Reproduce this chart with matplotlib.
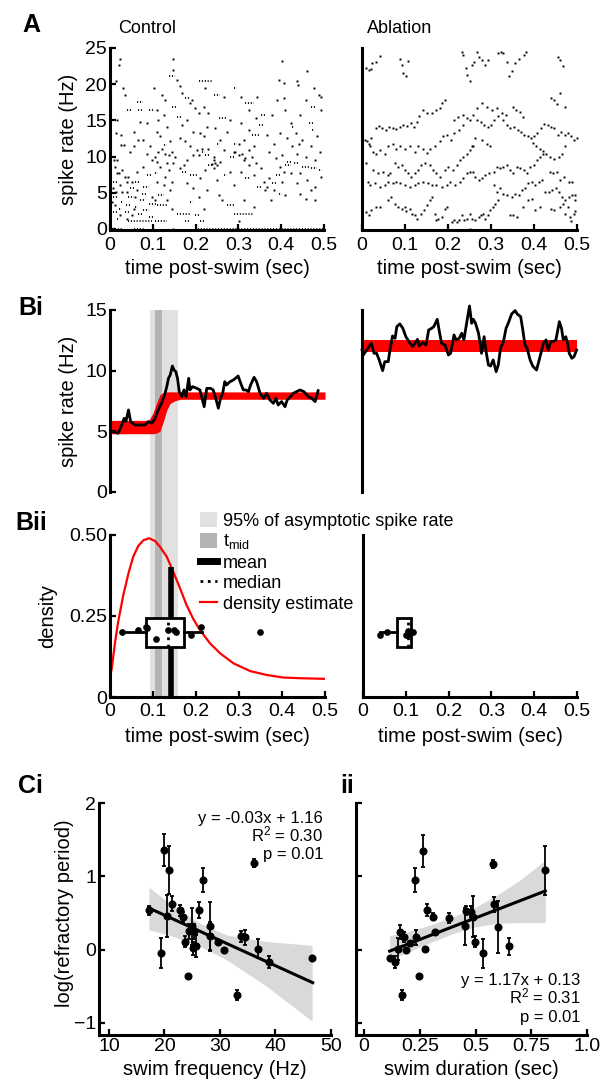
import matplotlib
matplotlib.use('Agg')
import matplotlib.pyplot as plt
from matplotlib.patches import Patch
from matplotlib.lines import Line2D
import numpy as np

plt.rcParams['font.family'] = ['Liberation Sans', 'DejaVu Sans']
plt.rcParams['mathtext.fontset'] = 'custom'
plt.rcParams['mathtext.rm'] = 'Liberation Sans'
plt.rcParams['mathtext.it'] = 'Liberation Sans:italic'
plt.rcParams['axes.linewidth'] = 2.2

# ---------------- data ----------------
time_ticks = [0, 0.1, 0.2, 0.3, 0.4, 0.5]
time_ticklabels = ['0', '0.1', '0.2', '0.3', '0.4', '0.5']

# A: single-trial spike rates (time in ms, rate in Hz)
ctrl_dots = [(20,22.7),(23,23.5),(13,20.4),(30,19.5),(35,18.5),(17,15.1),(14,13.2),(26,13.0),(26,11.6),(33,11.6),
             (47,10.7),(9,9.5),(17,9.5),(12,8.6),(27,8.1),(16,7.7),(22,7.7),(35,7.2),(43,7.2),(39,6.5),(51,6.5),
             (23,6.05),(6,5.6),(14,5.1),(27,5.1),(39,5.1),(4,3.7),(12,3.3),(55,2.8),(23,1.9),(51,1.9),(39,1.4),
             (70,14.8),(55,13.4),(86,14.6),(66,12.3),(78,12.3),(55,11.4),(94,11.4),(86,10.4),(98,9.5),(78,8.6),
             (64,7.9),(63,5.4),(59,4.4),(98,4.4),(105,4.0),
             (103,19.5),(121,18.5),(129,17.8),(147,23.5),(148,22.0),(156,20.6),(109,16.4),(125,15.8),(113,15.1),
             (133,14.1),(109,13.4),(117,12.8),(141,12.1),(105,10.0),(113,10.7),(121,11.1),(129,10.4),(137,10.2),
             (145,10.7),(152,10.0),(109,9.3),(133,9.1),(148,9.1),(117,8.6),(137,8.1),(129,7.2),(109,6.5),(145,6.5),
             (125,6.05),(141,5.4),(133,4.0),(145,2.7),(148,0.0),
             (164,19.7),(168,18.8),(188,17.4),(191,17.8),(199,16.7),(207,16.0),(180,15.1),(168,14.4),(195,13.4),
             (211,13.2),(164,12.5),(176,12.1),(188,11.4),(203,10.9),(195,10.2),(207,10.2),(180,9.5),(172,8.8),
             (164,8.4),(211,7.0),(180,6.3),(195,5.6),(207,4.4),
             (223,19.5),(266,18.3),(219,16.9),(230,16.0),(281,15.1),(227,14.1),(246,13.9),(273,13.4),(219,12.8),
             (258,12.3),(215,11.1),(230,11.1),(266,10.9),(289,10.7),(242,9.5),(258,9.3),(250,8.8),(242,8.4),
             (223,8.1),(281,7.9),(250,6.7),(289,6.05),(227,5.4),(254,4.7),(262,4.0),(219,2.8),(242,9.9),(238,9.0),
             (246,9.1),
             (305,18.3),(344,18.3),(324,16.4),(340,15.3),(305,14.6),(324,13.7),(367,13.0),(313,12.3),(301,11.8),
             (336,11.4),(293,10.7),(301,10.2),(309,10.4),(316,9.75),(324,10.9),(332,10.0),(313,9.5),(324,8.8),
             (340,9.1),(352,8.4),(305,7.9),(336,7.4),(359,6.5),(363,5.4),(313,4.0),(336,3.0),(301,1.1),
             (401,23.2),(395,20.6),(406,20.1),(439,19.9),(406,18.1),(391,17.8),(410,16.4),(379,15.8),(422,14.6),
             (398,13.2),(414,12.5),(383,11.8),(426,11.4),(371,10.7),(402,10.2),(387,9.75),(398,8.6),(406,7.9),
             (422,7.7),(371,7.0),(402,6.5),(367,5.8),(383,5.4),(410,4.7),(375,4.0),
             (461,21.8),(477,19.5),(488,18.5),(492,18.3),(438,20.4),(457,17.8),(492,16.4),(445,15.8),(434,13.2),
             (484,12.8),(449,12.3),(441,11.8),(469,11.4),(491,10.7),(438,10.4),(457,10.0),(480,9.5),(445,7.7),
             (492,7.2),(461,6.7),(438,6.3),(480,5.8),(469,5.4),(445,4.9),(457,4.1),(480,4.0)]

# runs of consecutive bins at one rate: (start ms, end ms, rate)
ctrl_runs = [(4,31,0),(55,82,0),(199,500,0),
             (43,98,1.1),(105,133,1.1),(176,188,1.1),(211,223,1.1),
             (156,188,2.1),(199,211,1.9),(289,336,2.1),
             (8,17,6.5),(47,55,5.6),(8,17,4.4),(43,55,4.4),(26,33,3.7),(38,48,3.3),(20,27,2.8),(8,17,2.4),
             (35,47,2.4),(16,22,1.4),
             (39,48,16.4),(63,77,17.6),(66,74,16.4),(90,102,16.4),(86,98,7.4),(59,70,6.5),(78,90,5.8),(74,86,4.9),
             (70,82,4.0),(90,109,3.5),(59,66,3.0),(78,90,2.6),(66,74,2.1),(90,102,1.7),
             (109,133,3.3),(139,152,21.2),(145,156,16.9),(125,133,11.6),(105,113,7.7),(113,125,4.7),
             (156,168,15.5),(176,184,18.1),(168,180,7.9),(188,203,7.4),(188,195,3.7),
             (207,238,20.5),(242,258,18.5),(215,223,10.7),(223,234,10.2),(230,238,8.8),(254,270,15.3),
             (250,258,11.8),(289,297,11.8),(266,273,7.4),(273,289,3.3),(281,293,10.0),
             (316,336,17.4),(352,363,15.8),(348,359,14.4),(332,348,13.0),(316,324,7.0),(344,352,5.8),
             (387,398,7.4),(395,402,4.9),(414,426,9.3),(410,422,8.8),(379,391,6.3),
             (430,441,9.1),(449,465,8.6),(469,484,8.4),(488,496,8.1),(465,477,14.6),(473,480,13.7),
             (469,480,16.9),(426,430,14.1),(289,297,19.5)]

abl_dots = [(10,22.2),(16,22.0),(22,22.1),(24,22.9),(32,23.1),(41,23.9),(88,23.5),(92,22.7),(96,21.5),(102,21.1),
            (108,23.2),(232,24.5),(236,24.1),(242,22.2),(245,21.3),(250,20.4),(255,22.7),(261,23.1),(267,24.4),
            (271,23.8),(279,23.4),(286,22.7),(292,23.4),(317,24.3),(323,24.5),(329,24.3),(337,23.1),(343,21.1),
            (349,21.8),(356,22.9),(364,23.5),(376,24.1),(382,24.4),(456,23.8),(461,23.4),(467,22.5),
            (460,18.8),(440,18.1),(447,17.8),(454,17.3),(473,16.9),(193,17.8),(187,17.4),(181,16.7),(172,16.4),
            (162,16.0),(150,16.0),(141,16.4),(133,15.6),(279,17.4),(267,16.7),(290,16.9),(302,16.4),(314,16.7),
            (325,16.0),(335,15.8),(352,16.9),(359,16.4),(368,16.1),(374,15.5),(236,15.8),(224,15.4),(214,15.0),
            (6,12.3),(12,12.1),(16,11.8),(22,12.5),(33,13.9),(40,14.2),(47,14.0),(55,13.7),(63,14.1),(72,13.9),
            (80,13.8),(88,14.1),(96,14.4),(105,14.2),(113,14.6),(121,14.1),(127,14.8),
            (18,11.4),(26,10.7),(33,10.4),(43,10.9),(53,10.4),(61,11.4),(72,11.8),(80,11.1),(89,11.4),(100,11.1),
            (111,11.4),(123,10.7),(131,11.4),(141,11.0),(150,10.5),(159,11.1),(170,11.4),(181,12.1),(189,12.8),
            (198,13.0),(206,12.3),(214,13.2),(226,13.7),(236,14.4),(244,15.3),(251,15.0),(259,15.8),(268,15.1),
            (276,14.8),(284,14.4),(292,14.1),(300,14.4),(307,15.1),(317,15.6),(328,15.1),(337,14.4),(345,13.9),
            (354,14.1),(362,13.7),(370,13.4),(377,13.0),(385,12.8),(393,12.5),(401,12.8),(408,13.2),(416,13.9),
            (424,14.5),(432,14.4),(440,14.1),(447,13.9),(455,13.0),(463,13.4),(471,13.0),(478,13.2),(486,12.8),
            (494,12.3),(500,12.5),(473,11.4),(465,10.4),(457,10.0),(447,9.6),(438,10.0),(429,10.3),(421,10.8),
            (413,11.1),(405,11.5),(398,11.9),(290,11.8),(279,12.3),(298,11.4),(263,12.5),(255,11.4),
            (10,9.1),(26,8.1),(37,7.7),(49,7.9),(61,7.4),(66,7.7),(76,9.1),(84,8.6),(92,8.8),(100,8.1),(107,7.7),
            (115,7.2),(123,7.7),(131,8.1),(138,8.8),(146,9.1),(158,8.8),(166,8.1),(173,7.7),(181,7.2),(193,8.1),
            (201,8.6),(212,8.1),(220,8.8),(228,9.5),(236,10.0),(244,10.4),(251,10.9),(259,11.4),
            (14,6.5),(18,6.1),(30,6.3),(41,5.8),(53,6.1),(61,6.5),(71,6.3),(80,6.5),(88,6.3),(100,6.1),(111,5.8),
            (123,6.1),(131,6.3),(142,6.5),(154,6.3),(162,6.1),(173,6.1),(185,5.8),(197,6.1),(205,6.5),(216,6.1),
            (228,6.5),(236,7.0),(244,7.7),(251,7.9),(258,7.9),(263,7.2),(271,6.7),(279,7.0),(286,7.4),(296,7.7),
            (306,7.9),(314,8.6),(321,8.4),(329,8.6),(337,8.8),(345,8.1),(352,7.7),(360,8.6),(368,8.4),(376,8.1),
            (384,7.7),(391,8.6),(399,8.8),(407,9.5),(415,10.0),(422,10.4),(438,7.9),(444,7.8),(454,7.9),(461,6.7),
            (469,7.2),(481,6.5),(489,6.5),(306,6.1),(314,5.1),(321,5.6),(329,4.9),(337,4.7),(349,4.4),(356,4.9),
            (364,4.7),(372,5.4),(380,5.6),(387,6.3),(395,6.5),(403,6.1),(411,6.5),(419,6.7),(426,5.1),(434,5.1),
            (442,5.4),(450,5.6),(457,5.1),(465,4.4),(473,4.0),(481,4.4),(489,4.7),(496,4.7),(496,4.0),
            (10,2.4),(16,1.9),(22,2.6),(33,3.1),(41,3.1),(61,4.0),(68,4.4),(76,3.5),(84,3.1),(92,2.8),(100,3.1),
            (103,2.5),(111,2.8),(117,2.1),(123,1.9),(128,1.4),(138,2.1),(144,2.6),(150,3.3),(158,4.0),(162,4.4),
            (170,2.1),(173,1.2),(177,1.4),(185,1.7),(193,2.8),(198,3.1),(209,1.0),(214,1.2),(220,1.0),(226,1.2),
            (232,1.9),(237,1.2),(244,1.4),(250,2.1),(255,1.4),(251,0.05),(263,1.2),(271,1.7),(276,1.9),(282,2.1),
            (286,1.4),(292,1.9),(298,2.6),(304,3.0),(310,3.4),(317,4.0),(345,1.9),(352,1.9),(360,1.7),(374,3.1),
            (385,4.0),(395,4.1),(403,2.6),(415,3.1),(440,2.8),(447,2.6),(461,3.1),(468,3.5),(473,2.1),(478,3.0),
            (483,1.7),(485,1.1),(492,2.1),(496,2.5)]

# Bi: mean spike rate traces (sec, Hz)
bi_ctrl = [(0.008,4.97),(0.019,4.84),(0.027,5.52),(0.033,6.07),(0.037,5.8),(0.043,6.76),(0.048,5.8),(0.058,5.52),
           (0.070,5.52),(0.081,5.52),(0.089,5.8),(0.097,5.66),(0.105,6.07),(0.112,6.76),(0.120,7.31),(0.128,8.13),
           (0.132,8.68),(0.136,9.37),(0.140,9.64),(0.145,10.38),(0.149,10.05),(0.153,9.92),(0.157,9.37),(0.161,8.27),
           (0.167,7.86),(0.172,8.41),(0.177,7.86),(0.183,9.37),(0.186,8.41),(0.192,8.68),(0.202,8.54),(0.209,8.41),
           (0.213,7.86),(0.219,7.03),(0.225,8.54),(0.234,8.54),(0.240,8.41),(0.247,7.58),(0.252,6.90),(0.257,7.72),
           (0.262,8.13),(0.267,9.09),(0.271,8.82),(0.279,9.09),(0.287,9.23),(0.298,9.56),(0.304,8.96),(0.310,8.41),
           (0.316,8.41),(0.322,8.27),(0.327,8.82),(0.335,9.45),(0.341,9.09),(0.349,8.13),(0.357,7.72),(0.364,8.13),
           (0.372,7.58),(0.380,7.31),(0.386,7.72),(0.391,7.17),(0.399,7.45),(0.407,7.03),(0.412,7.58),(0.420,7.86),
           (0.426,8.13),(0.434,8.27),(0.442,8.41),(0.451,8.27),(0.461,7.86),(0.469,7.72),(0.477,7.45),(0.481,7.99),
           (0.484,8.35)]
bi_abl = [(0.0,11.70),(0.003,11.29),(0.011,11.70),(0.019,12.12),(0.022,12.25),(0.028,11.43),(0.034,11.43),
          (0.040,10.88),(0.048,10.0),(0.053,10.74),(0.061,10.74),(0.065,11.70),(0.071,12.86),(0.077,12.66),
          (0.081,13.63),(0.088,13.85),(0.095,13.49),(0.102,12.80),(0.112,12.25),(0.118,11.98),(0.123,12.25),
          (0.129,12.58),(0.133,12.03),(0.141,12.31),(0.149,12.12),(0.155,13.35),(0.162,13.49),(0.167,13.63),
          (0.175,14.23),(0.180,13.21),(0.185,12.25),(0.193,12.12),(0.201,11.29),(0.206,11.43),(0.214,12.94),
          (0.219,12.53),(0.226,12.66),(0.232,13.08),(0.237,12.53),(0.242,13.63),(0.250,15.33),(0.255,13.90),
          (0.259,14.23),(0.264,13.90),(0.271,13.08),(0.278,11.43),(0.284,12.80),(0.288,11.70),(0.294,10.47),
          (0.299,10.38),(0.305,10.88),(0.312,9.92),(0.317,10.47),(0.322,11.84),(0.329,12.39),(0.335,13.49),
          (0.340,13.90),(0.348,14.67),(0.356,14.95),(0.361,14.67),(0.369,14.45),(0.374,13.35),(0.379,12.12),
          (0.384,11.84),(0.391,10.88),(0.397,10.38),(0.406,10.05),(0.416,11.43),(0.422,12.25),(0.428,12.53),
          (0.433,11.70),(0.439,12.39),(0.445,12.39),(0.451,12.53),(0.459,14.04),(0.464,13.49),(0.468,12.53),
          (0.474,12.80),(0.478,12.25),(0.482,11.43),(0.488,11.02),(0.493,11.15),(0.499,11.70)]

# Bi: range of sigmoid fits (red band)
fit_t = [0, 0.09, 0.10, 0.108, 0.116, 0.124, 0.132, 0.140, 0.15, 0.163, 0.5]
fit_upper = [5.9, 5.9, 6.5, 7.3, 8.0, 8.2, 8.25, 8.25, 8.25, 8.25, 8.25]
fit_lower = [4.8, 4.8, 4.8, 4.85, 5.0, 5.8, 6.75, 7.3, 7.5, 7.64, 7.64]
abl_fit_lower, abl_fit_upper = 11.55, 12.5

asym95 = (0.093, 0.158)   # 95% of asymptotic spike rate
tmid = (0.105, 0.121)

# Bii: distribution of t_mid across cells
dens_t = [0, 0.004, 0.012, 0.019, 0.031, 0.043, 0.054, 0.066, 0.078, 0.091, 0.105, 0.116, 0.132, 0.147,
          0.163, 0.178, 0.194, 0.209, 0.233, 0.256, 0.287, 0.326, 0.364, 0.403, 0.442, 0.5]
dens_y = [0.058, 0.088, 0.171, 0.232, 0.315, 0.382, 0.433, 0.467, 0.484, 0.49, 0.481, 0.464, 0.433, 0.387,
          0.335, 0.284, 0.24, 0.207, 0.165, 0.135, 0.104, 0.080, 0.068, 0.060, 0.058, 0.056]
ctrl_tmid = [0.027, 0.066, 0.083, 0.086, 0.107, 0.134, 0.149, 0.153, 0.188, 0.212, 0.348]
ctrl_jit = [0.20, 0.207, 0.217, 0.212, 0.18, 0.208, 0.207, 0.202, 0.19, 0.215, 0.20]
ctrl_box = dict(med=0.135, q1=0.084, q3=0.172, whislo=0.027, whishi=0.213, fliers=[])
ctrl_mean, ctrl_mean_top = 0.141, 0.40
abl_tmid = [0.040, 0.057, 0.100, 0.105, 0.117, 0.108]
abl_jit = [0.19, 0.20, 0.19, 0.205, 0.20, 0.193]
abl_box = dict(med=0.104, q1=0.079, q3=0.112, whislo=0.040, whishi=0.117, fliers=[])

# C: log(refractory period) vs swim frequency / duration
freq = [17.2, 19.4, 20.0, 20.4, 20.9, 21.35, 22.8, 23.3, 23.75, 24.2, 24.5, 24.9, 25.1, 25.3, 25.7, 26.3,
        27.0, 28.2, 28.2, 29.6, 30.8, 33.1, 33.7, 34.5, 36.1, 36.8, 38.9, 46.5]
freq_y = [0.535, -0.045, 1.36, 0.46, 1.09, 0.625, 0.535, 0.45, 0.11, -0.36, 0.25, 0.32, 0.02, 0.25, 0.05,
          0.545, 0.95, 0.32, 0.18, 0.10, 0.0, -0.62, 0.18, 0.17, 1.18, 0.015, -0.17, -0.11]
freq_err = [0.06, 0.2, 0.22, 0.29, 0.33, 0.1, 0.08, 0.07, 0.07, 0.0, 0.1, 0.25, 0.09, 0.1, 0.15, 0.11,
            0.16, 0.33, 0.2, 0.03, 0.02, 0.07, 0.07, 0.1, 0.05, 0.13, 0.08, 0.02]
freq_fit_x = [17.2, 46.7]
freq_fit_y = [0.567, -0.45]
freq_ci_x = [17.2, 21.6, 26.4, 31.2, 38.4, 46.6]
freq_ci_hi = [0.85, 0.59, 0.36, 0.20, 0.11, 0.06]
freq_ci_lo = [0.27, 0.18, 0.045, -0.14, -0.5, -0.975]

dur = [0.115, 0.141, 0.151, 0.163, 0.171, 0.178, 0.187, 0.205, 0.228, 0.232, 0.247, 0.265, 0.274, 0.283,
       0.31, 0.319, 0.381, 0.451, 0.456, 0.478, 0.49, 0.498, 0.535, 0.58, 0.583, 0.6, 0.648, 0.813]
dur_y = [-0.11, -0.17, 0.01, 0.24, -0.62, 0.17, 0.0, 0.09, 0.95, 0.17, -0.36, 1.35, 0.015, 0.54, 0.45, 0.24,
         0.43, 0.32, 0.53, 0.52, 0.45, 0.11, -0.05, 1.17, 0.62, 0.31, 0.045, 1.08]
dur_err = [0.03, 0.08, 0.15, 0.1, 0.07, 0.07, 0.02, 0.02, 0.16, 0.1, 0.0, 0.22, 0.02, 0.08, 0.05, 0.02,
           0.07, 0.25, 0.06, 0.07, 0.28, 0.07, 0.2, 0.05, 0.1, 0.35, 0.12, 0.33]
dur_fit_x = [0.115, 0.813]
dur_fit_y = [-0.02, 0.80]
dur_ci_x = [0.115, 0.2, 0.3, 0.4, 0.5, 0.6, 0.7, 0.813]
dur_ci_hi = [0.19, 0.25, 0.34, 0.45, 0.58, 0.75, 0.95, 1.22]
dur_ci_lo = [-0.135, -0.03, 0.10, 0.22, 0.31, 0.36, 0.37, 0.37]

# ---------------- layout ----------------
W, H = 608, 1084
fig = plt.figure(figsize=(W / 100, H / 100), dpi=100)


def box(l, t, r, b):
    return [l / W, 1 - b / H, (r - l) / W, (b - t) / H]


TICK = 14
LAB = 14.5
LIGHT = '#e1e1e1'
DARK = '#b4b4b4'


def style(ax, pad=2):
    ax.spines['top'].set_visible(False)
    ax.spines['right'].set_visible(False)
    ax.tick_params(direction='in', length=4, width=1.6, labelsize=TICK, pad=pad)


# ---- A ----
axA = [fig.add_axes(box(110, 48, 324, 230)), fig.add_axes(box(362, 48, 577, 230))]
for ax, dots, runs in [(axA[0], ctrl_dots, ctrl_runs), (axA[1], abl_dots, [])]:
    style(ax, pad=5)
    t, r = zip(*dots)
    ax.plot(np.array(t) / 1000, r, 's', ms=1.4, mew=0, color='k', clip_on=False)
    for t0, t1, rr in runs:
        ax.plot([t0 / 1000, t1 / 1000], [rr, rr], color='k', lw=1.3, ls=(0, (0.6, 1.0)),
                solid_capstyle='butt', clip_on=False)
    ax.set_xlim(0, 0.5)
    ax.set_ylim(-0.14, 25)
    ax.set_xticks(time_ticks)
    ax.set_xticklabels(time_ticklabels)
    ax.set_xlabel('time post-swim (sec)', fontsize=LAB, labelpad=4)
axA[0].tick_params(axis='y', pad=2)
axA[0].set_yticks([0, 5, 10, 15, 20, 25])
axA[0].set_ylabel('spike rate (Hz)', fontsize=LAB)
axA[0].yaxis.set_label_coords(-0.15, 0.5)
axA[1].tick_params(left=False, labelleft=False)
fig.text(118 / W, 1 - 33 / H, 'Control', fontsize=13, va='baseline')
fig.text(367 / W, 1 - 33 / H, 'Ablation', fontsize=13, va='baseline')

# ---- Bi ----
bi_lim = (-0.66, 15.41)
axBi = [fig.add_axes(box(110, 305, 325, 500)), fig.add_axes(box(362, 305, 577, 500))]
for ax in axBi:
    style(ax)
    ax.spines['bottom'].set_visible(False)
    ax.spines['left'].set_bounds(0, 15)
    ax.set_xlim(0, 0.5)
    ax.set_ylim(*bi_lim)
    ax.set_xticks([])
ax = axBi[0]
ax.fill_betweenx([bi_lim[0], 15], *asym95, color=LIGHT, lw=0, zorder=0)
ax.fill_betweenx([bi_lim[0], 15], *tmid, color=DARK, lw=0, zorder=0)
ax.fill_between(fit_t, fit_lower, fit_upper, color='red', lw=0, zorder=1)
t, r = zip(*bi_ctrl)
ax.plot(t, r, color='k', lw=2, zorder=2)
ax.set_yticks([0, 5, 10, 15])
ax.set_ylabel('spike rate (Hz)', fontsize=LAB)
ax.yaxis.set_label_coords(-0.15, (7.5 - bi_lim[0]) / (bi_lim[1] - bi_lim[0]))
ax = axBi[1]
ax.fill_between([0, 0.5], abl_fit_lower, abl_fit_upper, color='red', lw=0, zorder=1)
t, r = zip(*bi_abl)
ax.plot(t, r, color='k', lw=2, zorder=2, clip_on=False)
ax.tick_params(left=False, labelleft=False)

# ---- Bii ----
bii_lim = (0, 0.608)
axBii = [fig.add_axes(box(110, 500, 325, 697)), fig.add_axes(box(363, 500, 577, 697))]
for ax in axBii:
    style(ax)
    ax.tick_params(axis='x', pad=4.5)
    ax.spines['left'].set_bounds(0, 0.5)
    ax.set_xlim(0, 0.5)
    ax.set_ylim(*bii_lim)
    ax.set_xticks(time_ticks)
    ax.set_xticklabels(time_ticklabels)
    ax.set_xlabel('time post-swim (sec)', fontsize=LAB, labelpad=5)
ax = axBii[0]
ax.axvspan(*asym95, color=LIGHT, lw=0, zorder=0)
ax.axvspan(*tmid, color=DARK, lw=0, zorder=0)
ax.plot(dens_t, dens_y, color='red', lw=1.6, zorder=2)
ax.plot([ctrl_mean, ctrl_mean], [0, ctrl_mean_top], color='k', lw=4, solid_capstyle='butt', zorder=2)
boxkw = dict(orientation='horizontal', showcaps=False, patch_artist=True, manage_ticks=False,
             boxprops=dict(facecolor='white', edgecolor='k', lw=2),
             whiskerprops=dict(color='k', lw=2),
             medianprops=dict(color='k', lw=2, ls=':'))
ax.bxp([ctrl_box], positions=[0.2], widths=0.09, zorder=3, **boxkw)
ax.plot(ctrl_tmid, ctrl_jit, 'o', color='k', ms=3.8, zorder=4)
ax.set_yticks([0, 0.25, 0.5])
ax.set_yticklabels(['0', '0.25', '0.50'])
ax.set_ylabel('density', fontsize=LAB)
ax.yaxis.set_label_coords(-0.245, 0.25 / bii_lim[1])
ax = axBii[1]
ax.bxp([abl_box], positions=[0.2], widths=0.09, zorder=3, **boxkw)
ax.plot(abl_tmid, abl_jit, 'o', color='k', ms=3.8, zorder=4)
ax.tick_params(left=False, labelleft=False)

handles = [Patch(facecolor=LIGHT, edgecolor='none'), Patch(facecolor=DARK, edgecolor='none'),
           Line2D([], [], color='k', lw=5), Line2D([], [], color='k', lw=2, ls=':'),
           Line2D([], [], color='red', lw=1.6)]
labels = ['95% of asymptotic spike rate', 't$_{\\mathrm{mid}}$', 'mean', 'median', 'density estimate']
fig.legend(handles, labels, loc='upper left', bbox_to_anchor=(200 / W, 1 - 512 / H), frameon=False,
           fontsize=13, handlelength=0.95, handletextpad=0.3, labelspacing=0.15, borderpad=0,
           borderaxespad=0, handleheight=0.9)

# ---- C ----
axC = [fig.add_axes(box(99, 803, 331, 1035)), fig.add_axes(box(356, 803, 587, 1035))]
sets = [(axC[0], freq, freq_y, freq_err, freq_fit_x, freq_fit_y, freq_ci_x, freq_ci_hi, freq_ci_lo),
        (axC[1], dur, dur_y, dur_err, dur_fit_x, dur_fit_y, dur_ci_x, dur_ci_hi, dur_ci_lo)]
for ax, x, y, e, fx, fy, cx, chi, clo in sets:
    style(ax)
    ax.fill_between(cx, clo, chi, color='#d9d9d9', lw=0, zorder=0)
    ax.plot(fx, fy, color='k', lw=2.2, zorder=1)
    ax.errorbar(x, y, yerr=e, fmt='o', color='k', ms=4.8, elinewidth=1.3, capsize=1.6, capthick=1.3, zorder=2)
    ax.set_ylim(-1.164, 2.0)
    ax.set_yticks([-1, 0, 1, 2])
axC[0].set_xlim(8.2, 50)
axC[0].set_xticks([10, 20, 30, 40, 50])
axC[0].set_yticklabels(['\u22121', '0', '1', '2'])
axC[0].set_xlabel('swim frequency (Hz)', fontsize=LAB, labelpad=4)
axC[0].set_ylabel('log(refractory period)', fontsize=LAB)
axC[0].yaxis.set_label_coords(-0.108, 1.664 / 3.164)
axC[1].set_xlim(-0.036, 1.0)
axC[1].set_xticks([0, 0.25, 0.5, 0.75, 1.0])
axC[1].set_xticklabels(['0', '0.25', '0.5', '0.75', '1.0'])
axC[1].set_yticklabels([])
axC[1].set_xlabel('swim duration (sec)', fontsize=LAB, labelpad=4)

for i, s in enumerate(['y = -0.03x + 1.16', 'R$^{2}$ = 0.30', 'p = 0.01']):
    axC[0].text(0.966, (1035 - (823 + 18 * i)) / 232, s, transform=axC[0].transAxes,
                ha='right', va='baseline', fontsize=12)
for i, s in enumerate(['y = 1.17x + 0.13', 'R$^{2}$ = 0.31', 'p = 0.01']):
    axC[1].text(0.97, (1035 - (985 + 18.5 * i)) / 232, s, transform=axC[1].transAxes,
                ha='right', va='baseline', fontsize=12)

# panel letters
for s, x, yb in [('A', 22, 32), ('Bi', 18, 315), ('Bii', 15, 530), ('Ci', 18, 793), ('ii', 340, 793)]:
    fig.text(x / W, 1 - yb / H, s, fontsize=18, fontweight='bold', va='baseline')

fig.savefig('out.png', dpi=100)
